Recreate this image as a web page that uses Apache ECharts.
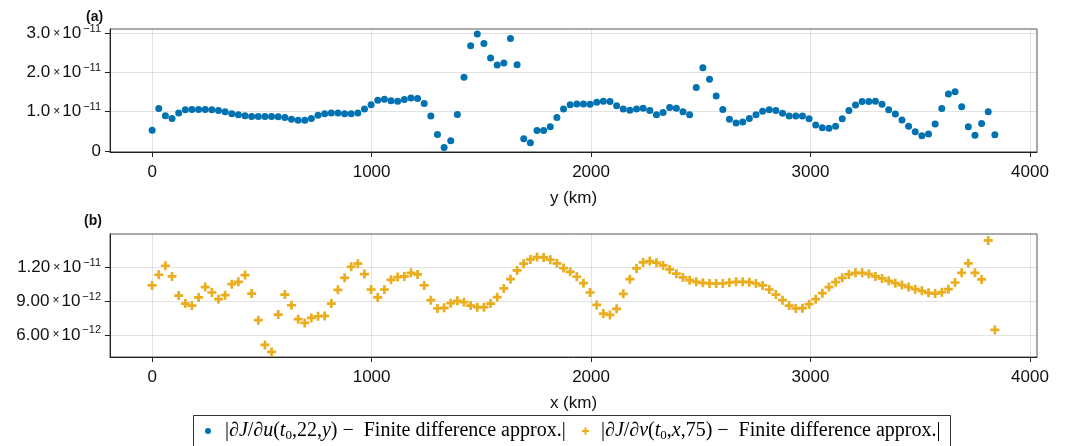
<!DOCTYPE html>
<html><head><meta charset="utf-8">
<script src="https://cdn.jsdelivr.net/npm/echarts@6/dist/echarts.min.js"></script>
<style>html,body{margin:0;padding:0;background:#fff}#c{width:1068px;height:446px}</style>
</head><body><div id="c"></div>
<script>
// ---- data ----
const xMaxKm = 3840;              // last sample position (km)
const gradUScale = 1e-11;          // panel (a) values, in units of 1e-11
const gradU = [
  0.53,1.08,0.90,0.83,0.97,1.05,1.06,1.06,1.06,1.05,
  1.03,1.00,0.95,0.92,0.90,0.88,0.88,0.88,0.88,0.87,
  0.85,0.81,0.78,0.78,0.83,0.91,0.95,0.97,0.97,0.95,
  0.95,0.97,1.07,1.18,1.29,1.32,1.28,1.27,1.31,1.35,
  1.34,1.21,0.89,0.42,0.09,0.26,0.93,1.88,2.68,2.98,
  2.74,2.37,2.19,2.24,2.87,2.20,0.31,0.21,0.52,0.52,
  0.62,0.85,1.07,1.18,1.20,1.20,1.19,1.24,1.27,1.26,
  1.15,1.07,1.04,1.07,1.09,1.03,0.92,0.98,1.11,1.09,
  1.00,0.92,1.62,2.12,1.83,1.40,1.06,0.81,0.71,0.74,
  0.83,0.92,1.01,1.05,1.03,0.96,0.89,0.89,0.89,0.82,
  0.66,0.59,0.58,0.63,0.82,1.03,1.17,1.26,1.26,1.27,
  1.19,1.05,0.94,0.79,0.63,0.49,0.39,0.43,0.69,1.08,
  1.45,1.51,1.13,0.62,0.40,0.70,1.00,0.41
];
const gradVScale = 1e-12;          // panel (b) values, in units of 1e-12
const gradV = [
  10.40,11.35,12.15,11.20,9.50,8.79,8.61,9.33,10.25,9.77,
  9.18,9.53,10.51,10.72,11.32,9.68,7.31,5.11,4.49,7.81,
  9.59,8.64,7.40,7.07,7.51,7.66,7.69,8.79,10.01,11.08,
  12.06,12.33,11.41,10.04,9.33,10.04,10.90,11.14,11.20,11.52,
  11.38,10.40,9.09,8.35,8.41,8.82,9.03,8.91,8.61,8.47,
  8.47,8.79,9.36,10.13,10.96,11.73,12.33,12.71,12.92,12.89,
  12.68,12.36,11.94,11.61,11.17,10.60,9.77,8.67,7.90,7.78,
  8.32,9.65,10.96,11.91,12.44,12.56,12.42,12.18,11.82,11.44,
  11.11,10.87,10.72,10.63,10.57,10.57,10.57,10.66,10.72,10.72,
  10.69,10.57,10.40,10.04,9.59,9.09,8.61,8.35,8.38,8.73,
  9.18,9.71,10.25,10.69,11.08,11.38,11.52,11.52,11.41,11.20,
  11.02,10.81,10.60,10.43,10.25,10.07,9.92,9.74,9.68,9.80,
  10.07,10.66,11.52,12.36,11.52,10.93,14.40,6.45
];
const xTicks = [0, 1000, 2000, 3000, 4000];
const xTickLabels = ['0', '1000', '2000', '3000', '4000'];
const yTicksA = [0, 1.0e-11, 2.0e-11, 3.0e-11];
const yTickLabelsA = [['0',''], ['1.0','−11'], ['2.0','−11'], ['3.0','−11']];
const yTicksB = [6.0e-12, 9.0e-12, 1.2e-11];
const yTickLabelsB = [['6.00','−12'], ['9.00','−12'], ['1.20','−11']];
const panelLabels = ['(a)', '(b)'];
const axisNames = ['y (km)', 'x (km)'];

// ---- build ----
const step = xMaxKm / (gradU.length - 1);
const dataU = gradU.map((v, i) => [i * step, v * gradUScale]);
const dataV = gradV.map((v, i) => [i * step, v * gradVScale]);

const SANS = 'Liberation Sans';
const SERIF = 'Liberation Serif';
const INK = '#111';

function sciFormatter(ticks, labels) {
  return function (val) {
    let k = 0, best = Infinity;
    ticks.forEach((t, i) => { const d = Math.abs(t - val); if (d < best) { best = d; k = i; } });
    const [m, e] = labels[k];
    if (!e) return '{m|' + m + '}';
    return '{m|' + m + '}{x|×}{m|10}{e|' + e + '}';
  };
}
const sciRich = {
  m: { fontSize: 17, fontFamily: SANS, color: INK, lineHeight: 20 },
  x: { fontSize: 12, fontFamily: SANS, color: INK, lineHeight: 20, padding: [0, 2, 0, 3] },
  e: { fontSize: 11, fontFamily: SANS, color: INK, lineHeight: 12, verticalAlign: 'top', padding: [0, 0, 0, 2] }
};

function xAxisDef(gi) {
  return {
    type: 'value', gridIndex: gi, min: -192, max: 4032,
    name: axisNames[gi], nameLocation: 'middle', nameGap: 38,
    nameTextStyle: { fontSize: 17, fontFamily: SANS, color: INK },
    axisLine: { show: true, onZero: false, lineStyle: { color: '#222', width: 1 } },
    axisTick: { show: true, inside: false, length: 5, customValues: xTicks, lineStyle: { color: '#222' } },
    axisLabel: { customValues: xTicks, margin: 12, fontSize: 17, fontFamily: SANS, color: INK,
      formatter: v => xTickLabels[xTicks.indexOf(Math.round(v))] },
    splitLine: { show: true, lineStyle: { color: 'rgba(0,0,0,0.11)', width: 1 } }
  };
}
function yAxisDef(gi, min, max, ticks, labels) {
  return {
    type: 'value', gridIndex: gi, min: min, max: max,
    axisLine: { show: true, onZero: false, lineStyle: { color: '#222', width: 1 } },
    axisTick: { show: true, inside: false, length: 5, customValues: ticks, lineStyle: { color: '#222' } },
    axisLabel: { customValues: ticks, margin: 9, formatter: sciFormatter(ticks, labels), rich: sciRich },
    splitLine: { show: true, lineStyle: { color: 'rgba(0,0,0,0.11)', width: 1 } }
  };
}

const LF = 20;
const legendRich = {
  r: { fontSize: LF, fontFamily: SERIF, color: '#000', lineHeight: 22 },
  i: { fontSize: LF, fontFamily: SERIF, fontStyle: 'italic', color: '#000', lineHeight: 22 },
  s: { fontSize: 13, fontFamily: SERIF, color: '#000', lineHeight: 12, verticalAlign: 'bottom' },
  p1: { fontSize: LF, fontFamily: SERIF, color: '#000', lineHeight: 22, padding: [0, 0, 0, 9] },
  p2: { fontSize: LF, fontFamily: SERIF, color: '#000', lineHeight: 22, padding: [0, 0, 0, 7] }
};
const legendText = {
  u: '{p1||}{i|∂J}{r|/}{i|∂u}{r|(}{i|t}{s|0}{r|,22,}{i|y}{r|) −  Finite difference approx.|}',
  v: '{p2||}{i|∂J}{r|/}{i|∂v}{r|(}{i|t}{s|0}{r|,}{i|x}{r|,75) −  Finite difference approx.|}'
};
const CROSS = 'path://M3.5,0H6.5V3.5H10V6.5H6.5V10H3.5V6.5H0V3.5H3.5Z';
const BLUE = '#0072b2', GOLD = '#e9ad1e';

const option = {
  animation: false,
  backgroundColor: '#fff',
  title: [
    { text: panelLabels[0], left: 86, top: 10, padding: 0,
      textStyle: { fontSize: 14, fontWeight: 'bold', fontFamily: SANS, color: INK } },
    { text: panelLabels[1], left: 84, top: 214, padding: 0,
      textStyle: { fontSize: 14, fontWeight: 'bold', fontFamily: SANS, color: INK } }
  ],
  grid: [
    { left: 110, top: 29, width: 927, height: 123, show: true, borderColor: '#555', borderWidth: 1, outerBoundsMode: 'none', containLabel: false },
    { left: 110, top: 234, width: 927, height: 123, show: true, borderColor: '#555', borderWidth: 1, outerBoundsMode: 'none', containLabel: false }
  ],
  xAxis: [xAxisDef(0), xAxisDef(1)],
  yAxis: [
    yAxisDef(0, -0.027e-11, 3.11e-11, yTicksA, yTickLabelsA),
    yAxisDef(1, 4.04e-12, 14.97e-12, yTicksB, yTickLabelsB)
  ],
  legend: [
    { data: [{ name: 'u', icon: 'circle' }], left: 205, top: 421, padding: 0, itemWidth: 6, itemHeight: 6,
      formatter: n => legendText[n], textStyle: { rich: legendRich }, selectedMode: false },
    { data: [{ name: 'v', icon: CROSS }], left: 582, top: 421, padding: 0, itemWidth: 7, itemHeight: 7,
      formatter: n => legendText[n], textStyle: { rich: legendRich }, selectedMode: false }
  ],
  graphic: [
    { type: 'rect', shape: { x: 193.5, y: 415.5, width: 757, height: 40 },
      style: { fill: 'none', stroke: '#333', lineWidth: 1 }, silent: true }
  ],
  series: [
    { name: 'u', type: 'scatter', xAxisIndex: 0, yAxisIndex: 0, data: dataU,
      symbol: 'circle', symbolSize: 7, itemStyle: { color: BLUE, opacity: 1 }, emphasis: { disabled: true } },
    { name: 'v', type: 'scatter', xAxisIndex: 1, yAxisIndex: 1, data: dataV,
      symbol: CROSS, symbolSize: 9, itemStyle: { color: GOLD, opacity: 1 }, emphasis: { disabled: true } }
  ]
};
const chart = echarts.init(document.getElementById('c'), null, { renderer: 'canvas' });
chart.setOption(option);
</script></body></html>
